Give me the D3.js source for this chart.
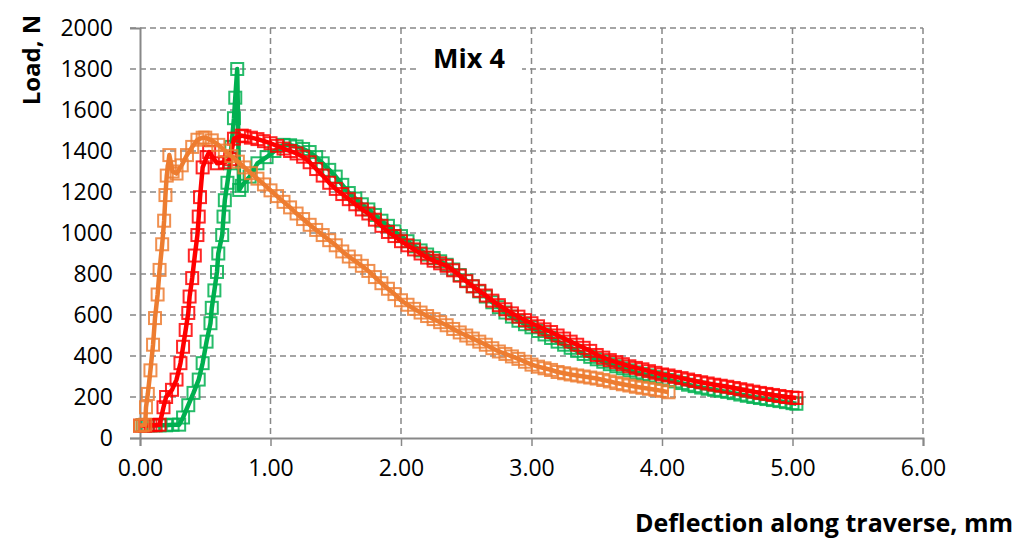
<!DOCTYPE html>
<html lang="en">

<head>
	<meta charset="utf-8">
	<title>Mix 4</title>
	<script type="text/javascript" src="https://cdn.jsdelivr.net/npm/d3@7"></script>
	<style type="text/css">
		body { margin: 0; background: #fff; }
		text { font-family: "Open Sans", "Noto Sans", sans-serif; }
	</style>
</head>

<body>
	<script type="text/javascript">
		// tick values
		var xTicks = [0, 1, 2, 3, 4, 5, 6];
		var yTicks = [0, 200, 400, 600, 800, 1000, 1200, 1400, 1600, 1800, 2000];

		// [deflection mm, load N]
		var greenSeries = [
			[0.02, 62], [0.06, 62], [0.10, 62], [0.15, 62], [0.20, 62], [0.25, 65], [0.30, 65],
			[0.33, 100], [0.37, 160], [0.41, 220], [0.45, 285], [0.48, 365], [0.51, 470], [0.54, 560],
			[0.55, 635], [0.57, 720], [0.59, 810], [0.60, 900], [0.63, 990], [0.64, 1080], [0.65, 1160],
			[0.67, 1245], [0.69, 1340], [0.70, 1420], [0.72, 1560], [0.73, 1660], [0.745, 1800],
			[0.76, 1210], [0.78, 1230], [0.84, 1275], [0.90, 1340], [0.97, 1370], [1.03, 1400],
			[1.10, 1430], [1.15, 1428], [1.20, 1422], [1.25, 1410], [1.30, 1395], [1.35, 1370],
			[1.40, 1340], [1.45, 1308], [1.50, 1275], [1.55, 1235], [1.60, 1195], [1.65, 1168],
			[1.70, 1140], [1.75, 1115], [1.80, 1088], [1.85, 1060], [1.90, 1035], [1.95, 1008],
			[2.00, 985], [2.05, 960], [2.10, 935], [2.15, 915], [2.20, 895], [2.25, 878], [2.30, 862],
			[2.35, 845], [2.40, 822], [2.45, 795], [2.50, 768], [2.55, 740], [2.60, 715], [2.65, 690],
			[2.70, 662], [2.75, 638], [2.80, 612], [2.85, 592], [2.90, 572], [2.95, 555], [3.00, 540],
			[3.05, 522], [3.10, 505], [3.15, 488], [3.20, 470], [3.25, 455], [3.30, 440], [3.35, 425],
			[3.40, 410], [3.45, 396], [3.50, 384], [3.55, 372], [3.60, 360], [3.65, 350], [3.70, 340],
			[3.75, 330], [3.80, 320], [3.85, 312], [3.90, 305], [3.95, 297], [4.00, 290], [4.05, 283],
			[4.10, 276], [4.15, 268], [4.20, 260], [4.25, 253], [4.30, 246], [4.35, 240], [4.40, 235],
			[4.45, 230], [4.50, 225], [4.55, 219], [4.60, 212], [4.65, 206], [4.70, 200], [4.75, 195],
			[4.80, 190], [4.85, 185], [4.90, 180], [4.95, 175], [5.00, 170], [5.03, 167]
		];

		var redSeries = [
			[0.00, 60], [0.04, 60], [0.08, 62], [0.12, 62], [0.15, 65], [0.18, 150], [0.20, 200],
			[0.245, 235], [0.28, 285], [0.31, 365], [0.33, 445], [0.35, 527], [0.37, 610], [0.38, 690],
			[0.40, 780], [0.42, 890], [0.44, 990], [0.45, 1080], [0.46, 1175], [0.48, 1320], [0.51, 1370],
			[0.53, 1395], [0.59, 1340], [0.65, 1345], [0.69, 1360], [0.72, 1460], [0.78, 1475],
			[0.80, 1472], [0.85, 1465], [0.90, 1458], [0.95, 1448], [1.00, 1438], [1.05, 1425],
			[1.10, 1412], [1.15, 1400], [1.20, 1388], [1.25, 1372], [1.30, 1345], [1.35, 1312],
			[1.40, 1280], [1.45, 1245], [1.50, 1215], [1.55, 1190], [1.60, 1165], [1.65, 1140],
			[1.70, 1115], [1.75, 1095], [1.80, 1065], [1.85, 1035], [1.90, 1005], [1.95, 985],
			[2.00, 960], [2.05, 940], [2.10, 920], [2.15, 900], [2.20, 880], [2.25, 865], [2.30, 852],
			[2.35, 840], [2.40, 818], [2.45, 792], [2.50, 765], [2.55, 740], [2.60, 718], [2.65, 695],
			[2.70, 670], [2.75, 648], [2.80, 628], [2.85, 608], [2.90, 592], [2.95, 575], [3.00, 560],
			[3.05, 545], [3.10, 530], [3.15, 517], [3.20, 500], [3.25, 485], [3.30, 470], [3.35, 455],
			[3.40, 440], [3.45, 425], [3.50, 405], [3.55, 392], [3.60, 380], [3.65, 370], [3.70, 360],
			[3.75, 350], [3.80, 342], [3.85, 335], [3.90, 326], [3.95, 318], [4.00, 310], [4.05, 305],
			[4.10, 298], [4.15, 292], [4.20, 285], [4.25, 278], [4.30, 272], [4.35, 266], [4.40, 260],
			[4.45, 255], [4.50, 250], [4.55, 244], [4.60, 238], [4.65, 232], [4.70, 226], [4.75, 220],
			[4.80, 215], [4.85, 210], [4.90, 205], [4.95, 200], [5.00, 197], [5.03, 195]
		];

		var orangeSeries = [
			[0.00, 60], [0.02, 62], [0.04, 65], [0.046, 150], [0.06, 215], [0.08, 330], [0.10, 455],
			[0.115, 585], [0.135, 700], [0.15, 820], [0.17, 945], [0.185, 1060], [0.195, 1185],
			[0.205, 1280], [0.225, 1380], [0.25, 1300], [0.28, 1290], [0.32, 1330], [0.36, 1380],
			[0.40, 1420], [0.44, 1455], [0.48, 1465], [0.50, 1465], [0.55, 1452], [0.60, 1430],
			[0.65, 1402], [0.70, 1375], [0.75, 1348], [0.80, 1320], [0.85, 1292], [0.90, 1265],
			[0.95, 1237], [1.00, 1208], [1.05, 1180], [1.10, 1152], [1.15, 1125], [1.20, 1095],
			[1.25, 1068], [1.30, 1040], [1.35, 1015], [1.40, 990], [1.45, 965], [1.50, 940],
			[1.55, 910], [1.60, 885], [1.65, 862], [1.70, 840], [1.75, 815], [1.80, 785], [1.85, 755],
			[1.90, 728], [1.95, 702], [2.00, 672], [2.05, 650], [2.10, 630], [2.15, 612], [2.20, 595],
			[2.25, 580], [2.30, 565], [2.35, 550], [2.40, 532], [2.45, 515], [2.50, 500], [2.55, 485],
			[2.60, 470], [2.65, 455], [2.70, 438], [2.75, 422], [2.80, 410], [2.85, 398], [2.90, 386],
			[2.95, 372], [3.00, 358], [3.05, 348], [3.10, 340], [3.15, 332], [3.20, 322], [3.25, 316],
			[3.30, 310], [3.35, 305], [3.40, 300], [3.45, 295], [3.50, 290], [3.55, 283], [3.60, 276],
			[3.65, 268], [3.70, 262], [3.75, 256], [3.80, 250], [3.85, 245], [3.90, 240], [3.95, 235],
			[4.00, 230], [4.05, 223]
		];

		var seriesList = [
			{ color: "#00B050", data: greenSeries },
			{ color: "#FF0000", data: redSeries },
			{ color: "#ED7D31", data: orangeSeries }
		];

		//Width and height
		var w = 1028;
		var h = 539;

		// plot area (pixels)
		var plotLeft = 140, plotRight = 923, plotTop = 28, plotBottom = 438;

		var xScale = d3.scaleLinear().domain([0, 6]).range([plotLeft, plotRight]);
		var yScale = d3.scaleLinear().domain([0, 2000]).range([plotBottom, plotTop]);

		var svg = d3.select("body")
			.append("svg")
			.attr("width", w)
			.attr("height", h);

		// grid lines
		svg.append("g")
			.selectAll("line")
			.data(yTicks.slice(1))
			.enter()
			.append("line")
			.attr("x1", plotLeft - 10)
			.attr("x2", plotRight)
			.attr("y1", function (d) { return yScale(d); })
			.attr("y2", function (d) { return yScale(d); })
			.attr("stroke", "#888")
			.attr("stroke-width", 1.5)
			.attr("stroke-dasharray", "6,4");

		svg.append("g")
			.selectAll("line")
			.data(xTicks.slice(1))
			.enter()
			.append("line")
			.attr("x1", function (d) { return xScale(d); })
			.attr("x2", function (d) { return xScale(d); })
			.attr("y1", plotTop)
			.attr("y2", plotBottom)
			.attr("stroke", "#888")
			.attr("stroke-width", 1.5)
			.attr("stroke-dasharray", "6,4");

		// axes
		var xAxis = d3.axisBottom(xScale)
			.tickValues(xTicks)
			.tickSize(8)
			.tickFormat(d3.format(".2f"));

		var yAxis = d3.axisLeft(yScale)
			.tickValues(yTicks)
			.tickSize(10)
			.tickFormat(function (d) { return d; });

		var gx = svg.append("g")
			.attr("transform", "translate(0," + plotBottom + ")")
			.call(xAxis);

		var gy = svg.append("g")
			.attr("transform", "translate(" + plotLeft + ",0)")
			.call(yAxis);

		[gx, gy].forEach(function (g) {
			g.select(".domain").attr("stroke", "#888").attr("stroke-width", 2);
			g.selectAll(".tick line").attr("stroke", "#888").attr("stroke-width", 1.5);
			g.selectAll(".tick text")
				.attr("fill", "#000")
				.attr("font-size", "23px")
				.attr("font-family", "'Open Sans', 'Noto Sans', sans-serif");
		});
		gx.selectAll(".tick text").attr("y", 22).attr("dy", "0.71em");
		gy.selectAll(".tick text").attr("x", -27);
		gy.selectAll(".tick line").filter(function (d) { return d !== 0; }).remove();

		// series lines and markers
		var line = d3.line()
			.x(function (d) { return xScale(d[0]); })
			.y(function (d) { return yScale(d[1]); });

		var m = 12;

		seriesList.forEach(function (s) {
			var g = svg.append("g");
			g.append("path")
				.datum(s.data)
				.attr("d", line)
				.attr("fill", "none")
				.attr("stroke", s.color)
				.attr("stroke-width", 4.5)
				.attr("stroke-linejoin", "round");

			g.selectAll("rect")
				.data(s.data)
				.enter()
				.append("rect")
				.attr("x", function (d) { return xScale(d[0]) - m / 2; })
				.attr("y", function (d) { return yScale(d[1]) - m / 2; })
				.attr("width", m)
				.attr("height", m)
				.attr("fill", "none")
				.attr("stroke", s.color)
				.attr("stroke-opacity", 0.85)
				.attr("stroke-width", 2);
		});

		// chart title with white box
		svg.append("rect")
			.attr("x", 416)
			.attr("y", 40)
			.attr("width", 106)
			.attr("height", 36)
			.attr("fill", "#fff");

		svg.append("text")
			.attr("x", 469)
			.attr("y", 68)
			.attr("text-anchor", "middle")
			.attr("font-size", "27px")
			.attr("font-weight", "bold")
			.text("Mix 4");

		// axis titles
		svg.append("text")
			.attr("transform", "translate(40,60) rotate(-90)")
			.attr("text-anchor", "middle")
			.attr("font-size", "24px")
			.attr("font-weight", "bold")
			.text("Load, N");

		svg.append("text")
			.attr("x", 1013)
			.attr("y", 532)
			.attr("text-anchor", "end")
			.attr("font-size", "25px")
			.attr("font-weight", "bold")
			.text("Deflection along traverse, mm");
	</script>
</body>

</html>
